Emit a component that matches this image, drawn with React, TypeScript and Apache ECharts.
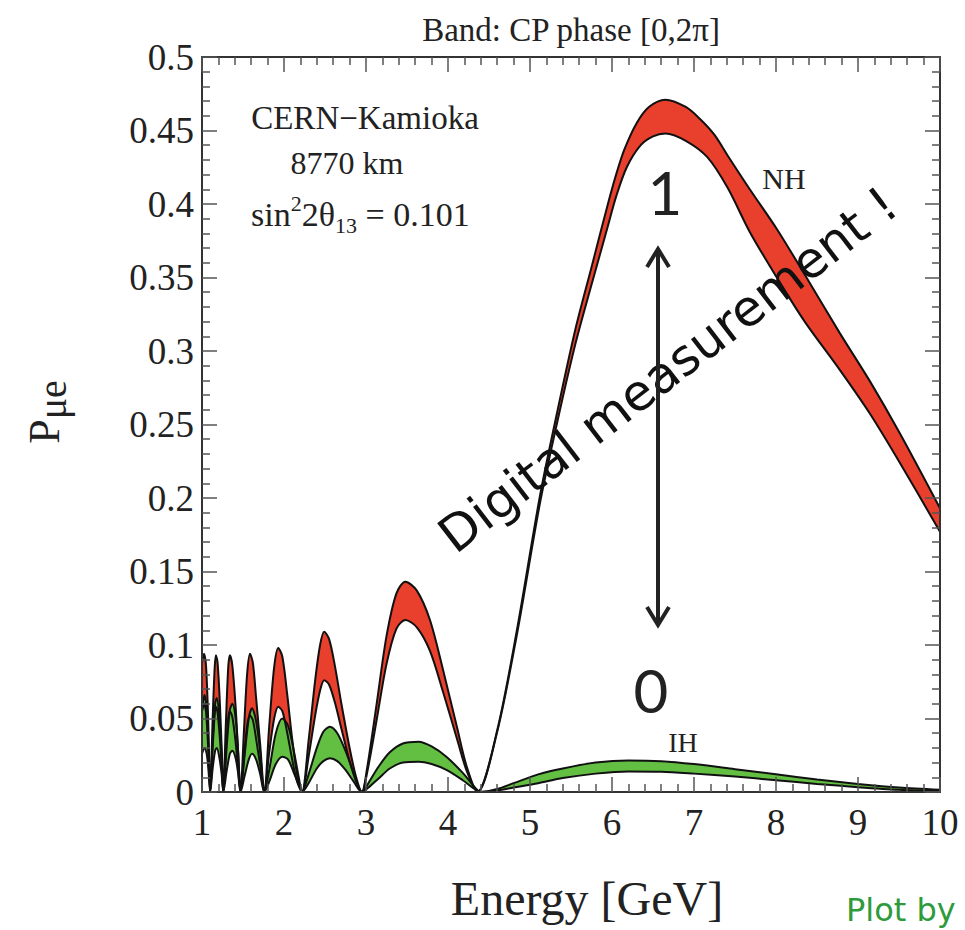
import React, { useEffect, useRef } from 'react';
import * as echarts from 'echarts';

// Energy [GeV], P(mu->e)
const nhUpper: [number, number][] = [
  [1.0, 0.088], [1.025, 0.094], [1.05, 0.085], [1.075, 0.05], [1.10, 0],
  [1.13, 0.05], [1.155, 0.085], [1.17, 0.093], [1.19, 0.088], [1.22, 0.058], [1.245, 0.022], [1.26, 0],
  [1.29, 0.045], [1.32, 0.085], [1.34, 0.093], [1.37, 0.086], [1.41, 0.058], [1.44, 0.028], [1.47, 0],
  [1.51, 0.04], [1.55, 0.080], [1.585, 0.094], [1.62, 0.088], [1.66, 0.064], [1.71, 0.032], [1.76, 0],
  [1.82, 0.045], [1.88, 0.085], [1.93, 0.098], [1.98, 0.092], [2.04, 0.066], [2.10, 0.036], [2.16, 0.012], [2.22, 0],
  [2.30, 0.035], [2.38, 0.076], [2.44, 0.100], [2.49, 0.109], [2.55, 0.104], [2.62, 0.086], [2.70, 0.060], [2.80, 0.030], [2.88, 0.010], [2.95, 0],
  [3.01, 0.015], [3.13, 0.060], [3.25, 0.106], [3.37, 0.135], [3.48, 0.143], [3.62, 0.137], [3.78, 0.117], [3.94, 0.083], [4.11, 0.044], [4.23, 0.017], [4.36, 0],
  [4.60, 0.042], [4.84, 0.110], [5.12, 0.201], [5.33, 0.258], [5.55, 0.314], [5.75, 0.357], [5.95, 0.400], [6.05, 0.420], [6.15, 0.437], [6.30, 0.455], [6.45, 0.466], [6.65, 0.471],
  [6.90, 0.466], [7.07, 0.458], [7.25, 0.447], [7.41, 0.433], [7.68, 0.410], [8.01, 0.383], [8.35, 0.352], [8.78, 0.312], [9.15, 0.279], [9.51, 0.244], [10, 0.193],
];

const nhLower: [number, number][] = [
  [1.0, 0.055], [1.025, 0.060], [1.05, 0.054], [1.075, 0.03], [1.10, 0],
  [1.13, 0.03], [1.155, 0.053], [1.17, 0.058], [1.19, 0.054], [1.22, 0.035], [1.245, 0.013], [1.26, 0],
  [1.29, 0.026], [1.32, 0.05], [1.34, 0.055], [1.37, 0.051], [1.41, 0.034], [1.44, 0.016], [1.47, 0],
  [1.51, 0.022], [1.55, 0.045], [1.585, 0.052], [1.62, 0.049], [1.66, 0.036], [1.71, 0.018], [1.76, 0],
  [1.82, 0.027], [1.88, 0.050], [1.93, 0.058], [1.98, 0.055], [2.04, 0.040], [2.10, 0.022], [2.16, 0.007], [2.22, 0],
  [2.30, 0.024], [2.38, 0.052], [2.44, 0.069], [2.49, 0.076], [2.55, 0.073], [2.62, 0.061], [2.70, 0.043], [2.80, 0.021], [2.88, 0.007], [2.95, 0],
  [3.01, 0.012], [3.13, 0.049], [3.25, 0.087], [3.37, 0.111], [3.48, 0.117], [3.62, 0.112], [3.78, 0.096], [3.94, 0.068], [4.11, 0.036], [4.23, 0.014], [4.36, 0],
  [4.60, 0.041], [4.84, 0.107], [5.12, 0.196], [5.33, 0.251], [5.55, 0.304], [5.75, 0.345], [5.95, 0.385], [6.05, 0.405], [6.18, 0.425], [6.35, 0.440], [6.50, 0.446], [6.65, 0.448],
  [6.90, 0.443], [7.16, 0.432], [7.41, 0.411], [7.68, 0.381], [8.01, 0.350], [8.35, 0.320], [8.78, 0.287], [9.15, 0.257], [9.51, 0.224], [10, 0.177],
];

const ihUpper: [number, number][] = [
  [1.0, 0.055], [1.03, 0.066], [1.06, 0.055], [1.08, 0.03], [1.10, 0],
  [1.13, 0.035], [1.16, 0.060], [1.18, 0.064], [1.21, 0.052], [1.24, 0.025], [1.26, 0],
  [1.30, 0.030], [1.34, 0.056], [1.37, 0.060], [1.41, 0.050], [1.44, 0.028], [1.47, 0],
  [1.52, 0.025], [1.57, 0.050], [1.61, 0.057], [1.66, 0.048], [1.71, 0.027], [1.76, 0],
  [1.82, 0.015], [1.90, 0.040], [1.98, 0.050], [2.05, 0.045], [2.12, 0.028], [2.18, 0.010], [2.22, 0],
  [2.30, 0.012], [2.40, 0.030], [2.48, 0.041], [2.56, 0.0444], [2.65, 0.040], [2.75, 0.028], [2.85, 0.013], [2.95, 0],
  [3.05, 0.008], [3.15, 0.017], [3.29, 0.027], [3.45, 0.033], [3.64, 0.0342], [3.80, 0.031], [3.98, 0.024], [4.18, 0.013], [4.30, 0.005], [4.40, 0],
  [4.60, 0.002], [4.80, 0.006], [5.10, 0.012], [5.40, 0.016], [5.80, 0.020], [6.20, 0.0215], [6.60, 0.021], [7.00, 0.019],
  [7.50, 0.0155], [8.00, 0.012], [8.50, 0.0085], [9.00, 0.0055], [9.50, 0.003], [10, 0.0015],
];

const ihLower: [number, number][] = [
  [1.0, 0.026], [1.03, 0.030], [1.06, 0.025], [1.08, 0.014], [1.10, 0],
  [1.13, 0.016], [1.16, 0.028], [1.18, 0.030], [1.21, 0.024], [1.24, 0.012], [1.26, 0],
  [1.30, 0.014], [1.34, 0.026], [1.37, 0.028], [1.41, 0.023], [1.44, 0.013], [1.47, 0],
  [1.52, 0.011], [1.57, 0.022], [1.61, 0.026], [1.66, 0.022], [1.71, 0.012], [1.76, 0],
  [1.82, 0.007], [1.90, 0.019], [1.98, 0.024], [2.05, 0.022], [2.12, 0.013], [2.18, 0.005], [2.22, 0],
  [2.30, 0.006], [2.40, 0.016], [2.48, 0.021], [2.56, 0.023], [2.65, 0.021], [2.75, 0.015], [2.85, 0.007], [2.95, 0],
  [3.05, 0.004], [3.15, 0.009], [3.29, 0.016], [3.45, 0.020], [3.64, 0.0206], [3.80, 0.019], [3.98, 0.015], [4.18, 0.008], [4.30, 0.003], [4.40, 0],
  [4.60, 0.001], [4.80, 0.003], [5.10, 0.006], [5.40, 0.0095], [5.80, 0.0125], [6.20, 0.014], [6.60, 0.0138], [7.00, 0.0125],
  [7.50, 0.0105], [8.00, 0.008], [8.50, 0.0055], [9.00, 0.0033], [9.50, 0.0015], [10, 0.0006],
];

const xRange = [1, 10];
const yRange = [0, 0.5];

const RED = '#e8402c';
const GREEN = '#63bf42';

export default function App() {
  const ref = useRef<HTMLDivElement>(null);

  useEffect(() => {
    const chart = echarts.init(ref.current!, null, { renderer: 'svg' });
    const serif = "'Liberation Serif', 'Times New Roman', serif";
    const sans = "'DejaVu Sans', sans-serif";
    const axisCommon = {
      type: 'value' as const,
      axisLine: { show: true, onZero: false, lineStyle: { color: '#333', width: 2 } },
      axisTick: { show: true, inside: true, length: 15, lineStyle: { color: '#555', width: 1.5 } },
      minorTick: { show: true, splitNumber: 5, length: 8, lineStyle: { color: '#555', width: 1.5 } },
      splitLine: { show: false },
      z: 10,
    };
    const xBase = { ...axisCommon, min: xRange[0], max: xRange[1], interval: 1 };
    const yBase = { ...axisCommon, min: yRange[0], max: yRange[1], interval: 0.05 };

    const area = (data: [number, number][], color: string) => ({
      type: 'line',
      data,
      smooth: 0.3,
      symbol: 'none',
      showSymbol: false,
      silent: true,
      lineStyle: { width: 0, opacity: 0 },
      areaStyle: { color, opacity: 1, origin: 'start' },
      z: 2,
    });
    const line = (data: [number, number][]) => ({
      type: 'line',
      data,
      smooth: 0.3,
      symbol: 'none',
      showSymbol: false,
      silent: true,
      lineStyle: { color: '#111', width: 2 },
      z: 3,
    });

    const txt = (text: string, x: number, y: number, fontSize: number, fontFamily: string, extra: any = {}) => ({
      type: 'text',
      x,
      y,
      z: 100,
      silent: true,
      ...extra,
      style: {
        text,
        fontSize,
        fontFamily,
        fill: extra.fill || '#222',
        align: extra.align || 'center',
        verticalAlign: 'middle',
      },
    });

    const arrowX = 658;
    const arrowTop = 249;
    const arrowBot = 625;

    chart.setOption({
      animation: false,
      backgroundColor: '#fff',
      grid: { left: 202, right: 25, top: 57, bottom: 138, containLabel: false },
      xAxis: [
        {
          ...xBase,
          position: 'bottom',
          axisLabel: { show: true, margin: 12, fontSize: 37, fontFamily: serif, color: '#222' },
        },
        { ...xBase, position: 'top', axisLabel: { show: false } },
      ],
      yAxis: [
        {
          ...yBase,
          position: 'left',
          axisLabel: { show: true, margin: 8, fontSize: 37, fontFamily: serif, color: '#222' },
        },
        { ...yBase, position: 'right', axisLabel: { show: false } },
      ],
      series: [
        area(nhUpper, RED),
        area(nhLower, '#ffffff'),
        area(ihUpper, GREEN),
        area(ihLower, '#ffffff'),
        line(nhUpper),
        line(nhLower),
        line(ihUpper),
        line(ihLower),
      ],
      graphic: [
        txt('Band: CP phase [0,2π]', 571, 30, 33, serif),
        txt('Energy [GeV]', 587, 898, 48, serif),
        {
          type: 'text',
          x: 44,
          y: 412,
          rotation: Math.PI / 2,
          z: 100,
          silent: true,
          style: {
            text: '{p|P}{s|μe}',
            fill: '#222',
            align: 'center',
            verticalAlign: 'middle',
            rich: {
              p: { fontSize: 44, fontFamily: serif, lineHeight: 56, fill: '#222' },
              s: { fontSize: 40, fontFamily: serif, verticalAlign: 'bottom', fill: '#222' },
            },
          },
        },
        txt('CERN−Kamioka', 365, 118, 33, serif),
        txt('8770 km', 347, 163, 32, serif),
        {
          type: 'text',
          x: 251,
          y: 214,
          z: 100,
          silent: true,
          style: {
            text: '{m|sin}{sup|2}{m|2θ}{sub|13}{m| = 0.101}',
            fill: '#222',
            align: 'left',
            verticalAlign: 'middle',
            rich: {
              m: { fontSize: 34, fontFamily: serif, lineHeight: 44, fill: '#222' },
              sup: { fontSize: 22, fontFamily: serif, verticalAlign: 'top', fill: '#222' },
              sub: { fontSize: 22, fontFamily: serif, verticalAlign: 'bottom', fill: '#222' },
            },
          },
        },
        txt('NH', 784, 178, 30, serif),
        txt('IH', 683, 742, 28, serif),
        txt('1', 665, 192, 60, "'Lato', sans-serif"),
        txt('0', 651, 690, 60, "'Lato', sans-serif"),
        {
          type: 'text',
          x: 668,
          y: 370,
          rotation: (37.6 * Math.PI) / 180,
          z: 100,
          silent: true,
          style: {
            text: 'Digital measurement !',
            fontSize: 50,
            fontFamily: sans,
            fill: '#111',
            align: 'center',
            verticalAlign: 'middle',
          },
        },
        txt('Plot by', 846, 910, 32, sans, { align: 'left', fill: '#2e9a3c' }),
        {
          type: 'group',
          z: 100,
          silent: true,
          children: [
            { type: 'line', z: 100, shape: { x1: arrowX, y1: arrowTop + 2, x2: arrowX, y2: arrowBot - 2 }, style: { stroke: '#222', lineWidth: 4 } },
            { type: 'polyline', z: 100, shape: { points: [[arrowX - 11, arrowTop + 18], [arrowX, arrowTop], [arrowX + 11, arrowTop + 18]] }, style: { stroke: '#222', lineWidth: 4, fill: 'none' } },
            { type: 'polyline', z: 100, shape: { points: [[arrowX - 11, arrowBot - 18], [arrowX, arrowBot], [arrowX + 11, arrowBot - 18]] }, style: { stroke: '#222', lineWidth: 4, fill: 'none' } },
          ],
        },
      ],
    });
    return () => chart.dispose();
  }, []);

  return (
    <div
      ref={ref}
      style={{ position: 'fixed', left: 0, top: 0, width: 965, height: 930, background: '#fff' }}
    />
  );
}
